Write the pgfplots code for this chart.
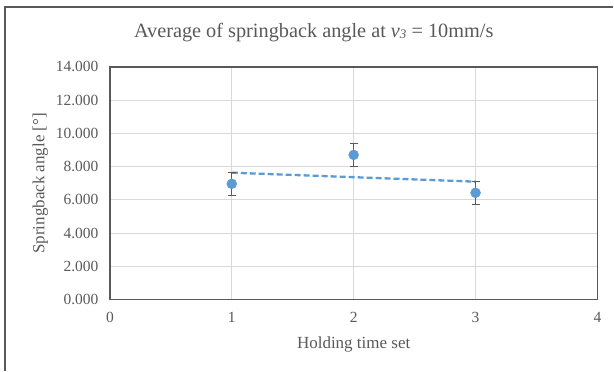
\documentclass[border=0pt]{standalone}
\usepackage{fontspec}
\setmainfont{Liberation Serif}
\usepackage{pgfplots}
\pgfplotsset{compat=1.18}
\definecolor{txt}{HTML}{595959}
\definecolor{grd}{HTML}{D9D9D9}
\definecolor{ser}{HTML}{5B9BD5}
\definecolor{axl}{HTML}{595959}
\begin{document}
\begin{tikzpicture}[x=1bp,y=1bp]
\path (0,0) rectangle (614,371);
\draw[axl, line width=1.2bp] (5,0) -- (5,364) -- (614,364);
\node[txt, font=\fontsize{20.3bp}{22bp}\selectfont] at (314,338) {Average of springback angle at \textit{v}{\fontsize{13bp}{14bp}\selectfont\raisebox{-0.5bp}{\textit{3}}} = 10mm/s};
\begin{axis}[
  at={(110bp,71bp)}, anchor=south west,
  scale only axis, width=488bp, height=233bp,
  xmin=0, xmax=4, ymin=0, ymax=14,
  xtick={0,1,2,3,4}, ytick={0,2,...,14},
  yticklabel style={/pgf/number format/fixed, /pgf/number format/fixed zerofill, /pgf/number format/precision=3, xshift=-8bp},
  /pgf/number format/assume math mode=true,
  tick label style={txt, font=\fontsize{15.5bp}{17bp}\selectfont},
  xticklabel style={yshift=-9bp},
  xlabel={Holding time set}, ylabel={Springback angle [°]},
  label style={txt, font=\fontsize{17bp}{19bp}\selectfont},
  xlabel style={yshift=-7bp},
  ylabel style={yshift=1bp},
  grid=major, major grid style={grd, line width=0.9bp},
  axis line style={axl, line width=1.5bp},
  major tick length=0pt,
  clip=false,
]
\addplot[ser, dashed, dash pattern=on 6bp off 3bp, line width=2.3bp] coordinates {(1,7.64) (3,7.10)};
\addplot[only marks, mark=*, mark size=5bp, mark options={ser, draw=ser},
  error bars/.cd, y dir=both, y explicit,
  error bar style={txt, line width=1.4bp},
  error mark options={rotate=90, mark size=4bp, txt, line width=1.4bp}]
  coordinates {(1,6.97) +- (0,0.69) (2,8.71) +- (0,0.69) (3,6.43) +- (0,0.69)};
\end{axis}
\end{tikzpicture}
\end{document}
